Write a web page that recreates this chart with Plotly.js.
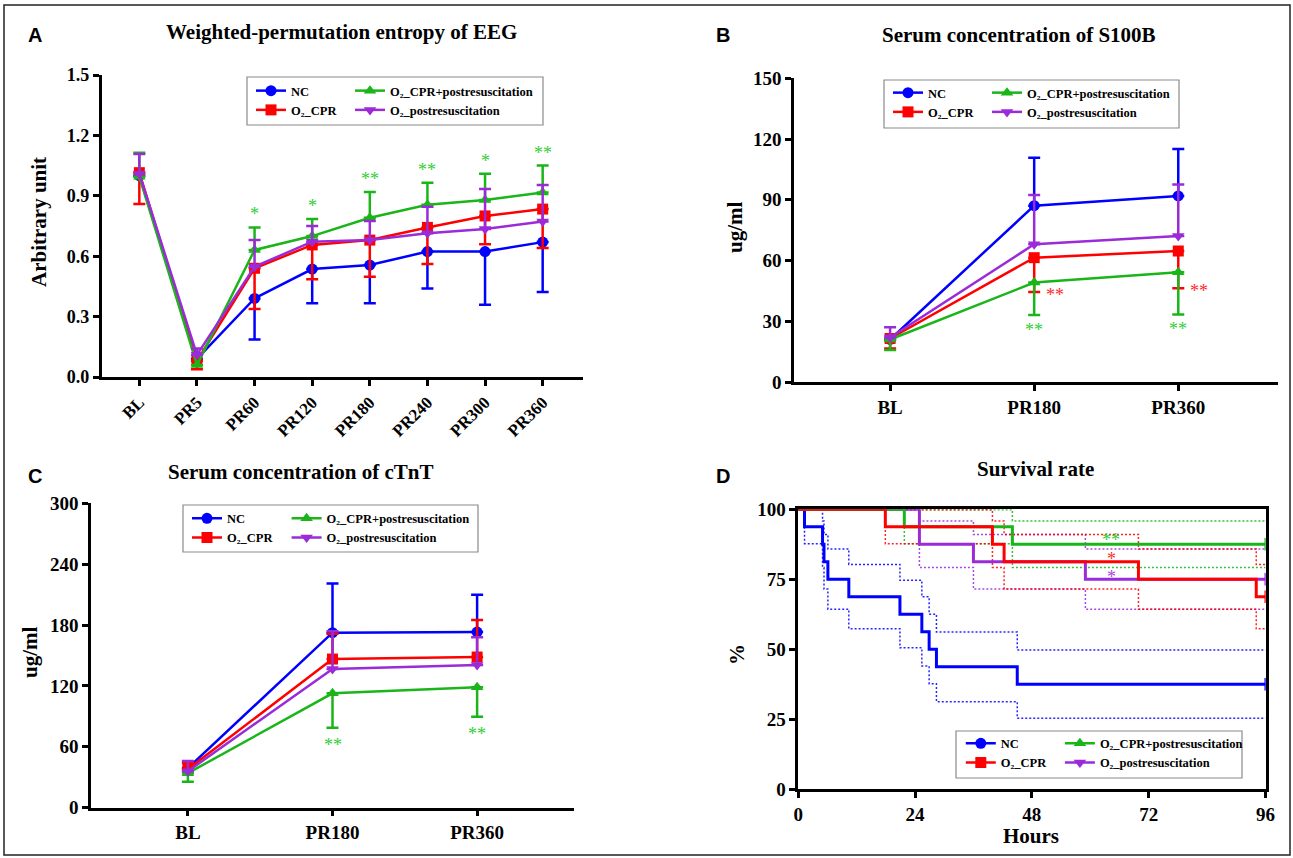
<!DOCTYPE html>
<html><head><meta charset="utf-8">
<script src="https://cdn.plot.ly/plotly-3.0.1.min.js"></script>
<style>html,body{margin:0;padding:0;background:#fff}#chart{width:1293px;height:858px}</style>
</head><body><div id="chart"></div>
<script>
// ---------------- data ----------------
const groupNames = ['NC', 'O₂_CPR', 'O₂_CPR+postresuscitation', 'O₂_postresuscitation'];

// Panel A: weighted-permutation entropy of EEG
const eegTimes = ['BL','PR5','PR60','PR120','PR180','PR240','PR300','PR360'];
const eegNC = [1.00, 0.09, 0.39, 0.536, 0.556, 0.623, 0.623, 0.67];
const eegNCErrMinus = [0, 0, 0.204, 0.17, 0.19, 0.184, 0.264, 0.248];
const eegCPR = [1.015, 0.08, 0.54, 0.656, 0.68, 0.743, 0.80, 0.834];
const eegCPRErrMinus = [0.156, 0.042, 0.202, 0.171, 0.182, 0.182, 0.141, 0.193];
const eegBoth = [0.995, 0.06, 0.631, 0.70, 0.791, 0.856, 0.879, 0.916];
const eegBothErrPlus = [0.119, 0, 0.112, 0.085, 0.128, 0.109, 0.131, 0.134];
const eegPost = [1.01, 0.11, 0.548, 0.672, 0.68, 0.714, 0.735, 0.772];
const eegPostErrPlus = [0.098, 0.032, 0.132, 0.078, 0.095, 0.131, 0.199, 0.182];
const eegSig = ['', '', '*', '*', '**', '**', '*', '**'];

// Panel B: serum S100B
const labTimes = ['BL','PR180','PR360'];
const s100NC = [21, 87.1, 91.9];
const s100NCErrPlus = [0, 23.7, 23.2];
const s100CPR = [21.5, 61.4, 64.7];
const s100CPRErrMinus = [5, 16.9, 18.4];
const s100Both = [21, 49.1, 54.2];
const s100BothErrMinus = [5.2, 16, 20.8];
const s100Post = [22, 68, 72.1];
const s100PostErrPlus = [5, 24.4, 25.5];
const s100SigCPR = ['', '**', '**'];
const s100SigBoth = ['', '**', '**'];

// Panel C: serum cTnT
const ctntNC = [39, 172.5, 173.1];
const ctntNCErrPlus = [0, 48.5, 36.8];
const ctntCPR = [38, 146.5, 148.5];
const ctntCPRErrPlus = [6, 25, 36.5];
const ctntBoth = [34, 112.7, 118.6];
const ctntBothErrMinus = [8.4, 33.9, 28.9];
const ctntPost = [36, 136.7, 140.6];
const ctntPostErrPlus = [10, 37.3, 27.3];
const ctntSigBoth = ['', '**', '**'];

// Panel D: survival (Kaplan-Meier, %), with dotted confidence bands
const survTimeNC = [0, 1.3, 5.0, 5.3, 6.1, 10.4, 20.9, 25.4, 26.9, 28.4, 45.0, 96];
const survNC = [100, 93.75, 87.5, 81.25, 75, 68.75, 62.5, 56.25, 50, 43.75, 37.5, 37.5];
const survNCUpper = [100, 99.8, 95.8, 91.0, 85.8, 80.3, 74.6, 68.7, 62.5, 56.2, 49.7, 49.7];
const survNCLower = [100, 87.7, 79.2, 71.5, 64.3, 57.3, 50.5, 44.0, 37.7, 31.3, 25.4, 25.4];
const survTimeCPR = [0, 17.9, 39.9, 42.3, 69.9, 94.1, 96];
const survCPR = [100, 93.75, 87.5, 81.25, 75, 68.75, 68.75];
const survCPRUpper = [100, 99.8, 95.8, 91.0, 85.8, 80.3, 80.3];
const survCPRLower = [100, 87.7, 79.2, 71.5, 64.3, 57.3, 57.3];
const survTimeBoth = [0, 21.8, 44.0, 96];
const survBoth = [100, 93.75, 87.5, 87.5];
const survBothUpper = [100, 99.8, 95.8, 95.8];
const survBothLower = [100, 87.7, 79.2, 79.2];
const survTimePost = [0, 24.9, 36.0, 59.0, 96];
const survPost = [100, 87.5, 81.25, 75, 75];
const survPostUpper = [100, 95.8, 91.0, 85.8, 85.8];
const survPostLower = [100, 79.2, 71.5, 64.3, 64.3];
const survSig = {both: '**', cpr: '*', post: '*'};
const survSigHour = 64.3;

// ---------------- styling ----------------
const W = 1293, H = 858;
const px = p => p / W, py = p => 1 - p / H;
const SERIF = 'Liberation Serif, Times New Roman, serif';
const SANS = 'Liberation Sans, Arial, sans-serif';
const C_NC = '#0000FF', C_CPR = '#FF0000', C_BOTH = '#19B519', C_POST = '#9B2BD8';
const S_BOTH = '#33CC33', S_CPR = '#FF2A2A', S_POST = '#A846E6';
const symbols = ['circle', 'square', 'triangle-up', 'triangle-down'];
const colors = [C_NC, C_CPR, C_BOTH, C_POST];

function errSpec(color, plus, minus) {
  return {type: 'data', symmetric: false, array: plus, arrayminus: minus,
          color: color, thickness: 2.5, width: 6};
}
function lineTrace(g, x, y, xa, ya, err, legend) {
  return {
    type: 'scatter', mode: 'lines+markers', x: x, y: y, xaxis: xa, yaxis: ya,
    name: groupNames[g], legend: legend,
    line: {color: colors[g], width: 2.5},
    marker: {color: colors[g], symbol: symbols[g], size: 11},
    error_y: err, cliponaxis: false, hoverinfo: 'x+y+name'
  };
}
const zeros = arr => arr.map(() => 0);

const traces = [];
// Panel A
traces.push(lineTrace(0, eegTimes, eegNC, 'x', 'y', errSpec(C_NC, zeros(eegNC), eegNCErrMinus), 'legend'));
traces.push(lineTrace(1, eegTimes, eegCPR, 'x', 'y', errSpec(C_CPR, zeros(eegCPR), eegCPRErrMinus), 'legend'));
traces.push(lineTrace(2, eegTimes, eegBoth, 'x', 'y', errSpec(C_BOTH, eegBothErrPlus, zeros(eegBoth)), 'legend2'));
traces.push(lineTrace(3, eegTimes, eegPost, 'x', 'y', errSpec(C_POST, eegPostErrPlus, zeros(eegPost)), 'legend2'));
// Panel B
traces.push(lineTrace(0, labTimes, s100NC, 'x2', 'y2', errSpec(C_NC, s100NCErrPlus, zeros(s100NC)), 'legend3'));
traces.push(lineTrace(1, labTimes, s100CPR, 'x2', 'y2', errSpec(C_CPR, zeros(s100CPR), s100CPRErrMinus), 'legend3'));
traces.push(lineTrace(2, labTimes, s100Both, 'x2', 'y2', errSpec(C_BOTH, zeros(s100Both), s100BothErrMinus), 'legend4'));
traces.push(lineTrace(3, labTimes, s100Post, 'x2', 'y2', errSpec(C_POST, s100PostErrPlus, zeros(s100Post)), 'legend4'));
// Panel C
traces.push(lineTrace(0, labTimes, ctntNC, 'x3', 'y3', errSpec(C_NC, ctntNCErrPlus, zeros(ctntNC)), 'legend5'));
traces.push(lineTrace(1, labTimes, ctntCPR, 'x3', 'y3', errSpec(C_CPR, ctntCPRErrPlus, zeros(ctntCPR)), 'legend5'));
traces.push(lineTrace(2, labTimes, ctntBoth, 'x3', 'y3', errSpec(C_BOTH, zeros(ctntBoth), ctntBothErrMinus), 'legend6'));
traces.push(lineTrace(3, labTimes, ctntPost, 'x3', 'y3', errSpec(C_POST, ctntPostErrPlus, zeros(ctntPost)), 'legend6'));

// Panel D
function band(t, y, color) {
  return {type: 'scatter', mode: 'lines', x: t, y: y, xaxis: 'x4', yaxis: 'y4', showlegend: false,
          line: {color: color, width: 1.5, dash: '2px,2px', shape: 'hv'}, hoverinfo: 'skip', opacity: 0.85};
}
function survTrace(g, t, y) {
  return {type: 'scatter', mode: 'lines+markers', x: t, y: y, xaxis: 'x4', yaxis: 'y4', showlegend: false,
          name: groupNames[g], line: {color: colors[g], width: 3, shape: 'hv'},
          marker: {symbol: 'line-ns', size: t.map((v, i) => i === t.length - 1 ? 9 : 0),
                   line: {color: colors[g], width: 2.5}}, cliponaxis: false};
}
traces.push(band(survTimeNC, survNCUpper, C_NC), band(survTimeNC, survNCLower, C_NC));
traces.push(band(survTimeBoth, survBothUpper, C_BOTH), band(survTimeBoth, survBothLower, C_BOTH));
traces.push(band(survTimePost, survPostUpper, C_POST), band(survTimePost, survPostLower, C_POST));
traces.push(band(survTimeCPR, survCPRUpper, C_CPR), band(survTimeCPR, survCPRLower, C_CPR));
traces.push(survTrace(0, survTimeNC, survNC));
traces.push(survTrace(3, survTimePost, survPost));
traces.push(survTrace(2, survTimeBoth, survBoth));
traces.push(survTrace(1, survTimeCPR, survCPR));
// legend entries for panel D
[0, 1, 2, 3].forEach(g => {
  traces.push({type: 'scatter', mode: 'lines+markers', x: [null], y: [null], xaxis: 'x4', yaxis: 'y4',
    name: groupNames[g], legend: g < 2 ? 'legend7' : 'legend8',
    line: {color: colors[g], width: 2.5}, marker: {color: colors[g], symbol: symbols[g], size: 11}});
});

// ---------------- layout ----------------
function axis(domain, extra) {
  return Object.assign({domain: domain, showline: true, linecolor: '#000', linewidth: 2.5,
    ticks: 'outside', ticklen: 6, tickwidth: 2.5, tickcolor: '#000', showgrid: false, zeroline: false,
    fixedrange: true, tickfont: {family: SERIF, size: 18, color: '#000', weight: 'bold'}}, extra);
}
function legendAt(leftPx, topPx) {
  return {x: px(leftPx), y: py(topPx), xanchor: 'left', yanchor: 'top', orientation: 'v',
          bgcolor: 'rgba(0,0,0,0)', borderwidth: 0, tracegroupgap: 0, itemclick: false,
          font: {family: SERIF, size: 12.5, color: '#000', weight: 'bold'}};
}
function rectShape(x0, y0, x1, y1, color, width) {
  return {type: 'rect', xref: 'paper', yref: 'paper', x0: px(x0), x1: px(x1), y0: py(y0), y1: py(y1),
          line: {color: color, width: width}, fillcolor: 'rgba(0,0,0,0)', layer: 'above'};
}
function textAt(xPx, yPx, text, font, angle) {
  return {xref: 'paper', yref: 'paper', x: px(xPx), y: py(yPx), text: text, showarrow: false,
          xanchor: 'center', yanchor: 'middle', font: font, textangle: angle || 0};
}
const titleFont = {family: SERIF, size: 21, color: '#000', weight: 'bold'};
const letterFont = {family: SANS, size: 20, color: '#000', weight: 'bold'};
const axTitleFont = {family: SERIF, size: 21, color: '#000', weight: 'bold'};

const annotations = [
  textAt(35, 35, 'A', letterFont), textAt(341, 32, 'Weighted-permutation entropy of EEG', titleFont),
  textAt(723, 35, 'B', letterFont), textAt(1019, 35, 'Serum concentration of S100B', titleFont),
  textAt(35, 476, 'C', letterFont), textAt(300, 472, 'Serum concentration of cTnT', titleFont),
  textAt(723, 476, 'D', letterFont), textAt(1035, 469, 'Survival rate', titleFont),
  textAt(39, 222, 'Arbitrary unit', axTitleFont, -90),
  textAt(735, 227, 'ug/ml', axTitleFont, -90),
  textAt(30, 652, 'ug/ml', axTitleFont, -90),
  textAt(737, 655, '%', axTitleFont, -90),
  textAt(1031, 836, 'Hours', axTitleFont)
];
function sig(xa, ya, x, y, text, color, xshift, yshift) {
  return {xref: xa, yref: ya, x: x, y: y, text: text, showarrow: false, xanchor: 'center', yanchor: 'middle',
          xshift: xshift, yshift: yshift, font: {family: SERIF, size: 18, color: color}};
}
eegSig.forEach((s, i) => { if (s) annotations.push(sig('x', 'y', i, eegBoth[i] + eegBothErrPlus[i], s, S_BOTH, 0, 13)); });
s100SigCPR.forEach((s, i) => { if (s) annotations.push(sig('x2', 'y2', i, s100CPR[i] - s100CPRErrMinus[i], s, S_CPR, 21, -3)); });
s100SigBoth.forEach((s, i) => { if (s) annotations.push(sig('x2', 'y2', i, s100Both[i] - s100BothErrMinus[i], s, S_BOTH, 0, -15)); });
ctntSigBoth.forEach((s, i) => { if (s) annotations.push(sig('x3', 'y3', i, ctntBoth[i] - ctntBothErrMinus[i], s, S_BOTH, 0, -17)); });
const atHour = (t, y) => y[t.filter(v => v <= survSigHour).length - 1];
annotations.push(sig('x4', 'y4', survSigHour, atHour(survTimeBoth, survBoth), survSig.both, S_BOTH, 0, 4));
annotations.push(sig('x4', 'y4', survSigHour, atHour(survTimeCPR, survCPR), survSig.cpr, S_CPR, 0, 3));
annotations.push(sig('x4', 'y4', survSigHour, atHour(survTimePost, survPost), survSig.post, S_POST, 0, 2));

const layout = {
  width: W, height: H, margin: {l: 0, r: 0, t: 0, b: 0}, paper_bgcolor: '#fff', plot_bgcolor: 'rgba(0,0,0,0)',
  showlegend: true, hovermode: 'closest',
  xaxis: axis([px(101.7), px(583)], {anchor: 'y', type: 'category', categoryorder: 'array', categoryarray: eegTimes,
                range: [-0.653, 7.70], tickangle: -45, tickfont: {family: SERIF, size: 17, color: '#000', weight: 'bold'}}),
  yaxis: axis([py(377), py(75)], {anchor: 'x', range: [0, 1.5], dtick: 0.3, tick0: 0, tickformat: '.1f'}),
  xaxis2: axis([px(794), px(1277.7)], {anchor: 'y2', type: 'category', categoryorder: 'array', categoryarray: labTimes,
                range: [-0.667, 2.69], tickfont: {family: SERIF, size: 19, color: '#000', weight: 'bold'}}),
  yaxis2: axis([py(382), py(78.3)], {anchor: 'x2', range: [0, 150], dtick: 30, tick0: 0,
                tickfont: {family: SERIF, size: 19, color: '#000', weight: 'bold'}}),
  xaxis3: axis([px(91), px(574)], {anchor: 'y3', type: 'category', categoryorder: 'array', categoryarray: labTimes,
                range: [-0.67, 2.67], tickfont: {family: SERIF, size: 19, color: '#000', weight: 'bold'}}),
  yaxis3: axis([py(807.7), py(503.3)], {anchor: 'x3', range: [0, 300], dtick: 60, tick0: 0,
                tickfont: {family: SERIF, size: 19, color: '#000', weight: 'bold'}}),
  xaxis4: axis([px(798.2), px(1265.5)], {anchor: 'y4', range: [0, 96], dtick: 24, tick0: 0, mirror: true,
                tickfont: {family: SERIF, size: 19, color: '#000', weight: 'bold'}}),
  yaxis4: axis([py(789.3), py(509.2)], {anchor: 'x4', range: [0, 100], dtick: 25, tick0: 0, mirror: true,
                tickfont: {family: SERIF, size: 19, color: '#000', weight: 'bold'}}),
  legend: legendAt(251, 76), legend2: legendAt(350, 76),
  legend3: legendAt(888, 78), legend4: legendAt(987, 78),
  legend5: legendAt(187, 503.7), legend6: legendAt(286.6, 503.7),
  legend7: legendAt(960.8, 728.7), legend8: legendAt(1059.9, 728.7),
  shapes: [
    rectShape(4, 5, 1290, 855, '#222', 1.5),
    rectShape(247, 77, 543, 125, '#8a8a8a', 1.2),
    rectShape(884, 80, 1179, 128, '#8a8a8a', 1.2),
    rectShape(183, 505, 478, 552, '#8a8a8a', 1.2),
    rectShape(956, 731, 1242, 778, '#8a8a8a', 1.2)
  ],
  annotations: annotations
};
Plotly.newPlot('chart', traces, layout, {displayModeBar: false, staticPlot: false});
</script>
</body></html>
